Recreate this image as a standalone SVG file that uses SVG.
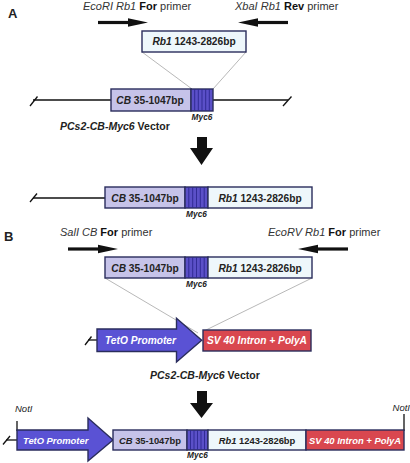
<svg xmlns="http://www.w3.org/2000/svg" width="410" height="463" viewBox="0 0 410 463">
<style>
text{font-family:"Liberation Sans",Arial,sans-serif;fill:#222}
.lbl{font-size:11px;fill:#333}
.i{font-style:italic}
.b{font-weight:bold;fill:#111}
.bx{stroke:#2a2d5c;stroke-width:1.4}
.cb{fill:#c6c3e9}
.rb{fill:#eef7fb}
.myc{fill:#5b50c8}
.tet{fill:#5a52d4}
.sv{fill:#d9474f}
.stripe{stroke:#2e2890;stroke-width:0.9}
.bt{font-size:10.2px;font-weight:bold;text-anchor:middle}
.bt2{font-size:9.4px;font-weight:bold;text-anchor:middle}
.wt{fill:#fff;font-weight:bold;font-style:italic}
.myl{font-size:8.3px;font-weight:bold;font-style:italic;text-anchor:middle}
.thin{stroke:#999;stroke-width:0.7;fill:none}
.vec{stroke:#111;stroke-width:1.3;fill:none}
.shaft{stroke:#111;stroke-width:3.2}
.head{fill:#111}
</style>

<text x="8" y="18" style="font-size:13px;font-weight:bold">A</text>
<text x="4" y="241" style="font-size:13px;font-weight:bold">B</text>

<g id="connectors">
  <!-- gray projection lines A -->
  <line class="thin" x1="142" y1="52" x2="192" y2="89"/>
  <line class="thin" x1="246" y1="52" x2="213" y2="89"/>
  <!-- gray projection lines B -->
  <line class="thin" x1="105" y1="278" x2="198" y2="333"/>
  <line class="thin" x1="312" y1="278" x2="204" y2="331"/>
  <!-- vector backbone A -->
  <line class="vec" x1="33" y1="100" x2="288" y2="100"/>
  <line class="vec" x1="30" y1="106" x2="37.5" y2="96.5"/>
  <line class="vec" x1="283" y1="106" x2="291.5" y2="96.5"/>
  <!-- second construct backbone -->
  <line class="vec" x1="33" y1="198" x2="105" y2="198"/>
  <line class="vec" x1="30" y1="202" x2="37" y2="193.5"/>
  <!-- B vector backbone -->
  <line class="vec" x1="88" y1="340" x2="98" y2="340"/>
  <line class="vec" x1="85" y1="345" x2="91.5" y2="336.5"/>
  <!-- final backbone -->
  <line class="vec" x1="6" y1="440" x2="17" y2="440"/>
  <line class="vec" x1="3" y1="444.5" x2="10" y2="436"/>
  <line class="vec" x1="17" y1="421" x2="17" y2="431"/>
  <line class="vec" x1="404" y1="414" x2="404" y2="431"/>
  <!-- primer arrows -->
  <line class="shaft" x1="98" y1="22.5" x2="129" y2="22.5"/>
  <polygon class="head" points="128,18.3 148,22.5 128,26.7"/>
  <line class="shaft" x1="257" y1="22.5" x2="288" y2="22.5"/>
  <polygon class="head" points="258,18.3 238,22.5 258,26.7"/>
  <line class="shaft" x1="68" y1="249" x2="99" y2="249"/>
  <polygon class="head" points="98,244.8 118,249 98,253.2"/>
  <line class="shaft" x1="317" y1="249" x2="348" y2="249"/>
  <polygon class="head" points="318,244.8 298,249 318,253.2"/>
  <!-- block arrows -->
  <polygon class="head" points="197,137 207,137 207,148 213,148 201.5,165 190,148 197,148"/>
  <polygon class="head" points="197,391 207,391 207,403 213,403 201.5,418 190,403 197,403"/>
</g>

<g id="primer-labels">
  <text class="lbl" x="83" y="10"><tspan class="i">EcoRI Rb1</tspan> <tspan class="b">For</tspan> primer</text>
  <text class="lbl" x="235" y="10"><tspan class="i">XbaI Rb1</tspan> <tspan class="b">Rev</tspan> primer</text>
  <text class="lbl" x="60" y="236"><tspan class="i">SalI CB</tspan> <tspan class="b">For</tspan> primer</text>
  <text class="lbl" x="268" y="236"><tspan class="i">EcoRV Rb1</tspan> <tspan class="b">For</tspan> primer</text>
</g>

<g id="rb1-insert">
  <rect class="bx rb" x="142" y="31" width="104" height="21"/>
  <text class="bt" x="194" y="45"><tspan font-style="italic">Rb1</tspan> 1243-2826bp</text>
</g>

<g id="vector-a">
  <rect class="bx cb" x="111" y="89" width="80" height="22"/>
  <text class="bt" x="150" y="103.5"><tspan font-style="italic">CB</tspan> 35-1047bp</text>
  <rect class="bx myc" x="191" y="89" width="22" height="22"/>
  <path class="stripe" d="M194.7,89v22M198.3,89v22M202,89v22M205.7,89v22M209.3,89v22"/>
  <text class="myl" x="202" y="119.5">Myc6</text>
  <text x="60" y="130" style="font-size:10.5px;font-weight:bold"><tspan font-style="italic">PCs2-CB-Myc6</tspan> Vector</text>
</g>

<g id="construct-a">
  <rect class="bx cb" x="105" y="187" width="80" height="21"/>
  <text class="bt" x="145" y="201.5"><tspan font-style="italic">CB</tspan> 35-1047bp</text>
  <rect class="bx myc" x="185" y="187" width="23" height="21"/>
  <path class="stripe" d="M188.8,187v21M192.7,187v21M196.5,187v21M200.3,187v21M204.2,187v21"/>
  <rect class="bx rb" x="208" y="187" width="104" height="21"/>
  <text class="bt" x="260" y="201.5"><tspan font-style="italic">Rb1</tspan> 1243-2826bp</text>
  <text class="myl" x="196.5" y="216.5">Myc6</text>
</g>

<g id="insert-b">
  <rect class="bx cb" x="105" y="257" width="80" height="21"/>
  <text class="bt" x="145" y="271.5"><tspan font-style="italic">CB</tspan> 35-1047bp</text>
  <rect class="bx myc" x="185" y="257" width="23" height="21"/>
  <path class="stripe" d="M188.8,257v21M192.7,257v21M196.5,257v21M200.3,257v21M204.2,257v21"/>
  <rect class="bx rb" x="208" y="257" width="104" height="21"/>
  <text class="bt" x="260" y="271.5"><tspan font-style="italic">Rb1</tspan> 1243-2826bp</text>
  <text class="myl" x="196.5" y="286.5">Myc6</text>
</g>

<g id="vector-b">
  <polygon class="bx tet" points="97,329 176.5,329 176.5,318.3 201.7,340.3 176.5,362 176.5,351.5 97,351.5"/>
  <text class="wt" x="105" y="344" style="font-size:10.2px">TetO Promoter</text>
  <rect class="bx sv" x="203" y="330" width="108" height="21"/>
  <text class="wt" x="257" y="344" style="font-size:10.2px;text-anchor:middle">SV 40 Intron + PolyA</text>
  <text x="150" y="379" style="font-size:10.5px;font-weight:bold"><tspan font-style="italic">PCs2-CB-Myc6</tspan> Vector</text>
</g>

<g id="final-construct">
  <text class="i" x="15" y="412" style="font-size:9.5px">NotI</text>
  <text class="i" x="410" y="411" style="font-size:9.5px;text-anchor:end">NotI</text>
  <polygon class="bx tet" points="17,430 88,430 88,418 113,440 88,461 88,450 17,450"/>
  <text class="wt" x="23" y="443.5" style="font-size:9.4px">TetO Promoter</text>
  <rect class="bx cb" x="113" y="430" width="74" height="20"/>
  <text class="bt2" x="150" y="443.5"><tspan font-style="italic">CB</tspan> 35-1047bp</text>
  <rect class="bx myc" x="187" y="430" width="21" height="20"/>
  <path class="stripe" d="M190.5,430v20M194,430v20M197.5,430v20M201,430v20M204.5,430v20"/>
  <rect class="bx rb" x="208" y="430" width="98" height="20"/>
  <text class="bt2" x="257" y="443.5"><tspan font-style="italic">Rb1</tspan> 1243-2826bp</text>
  <rect class="bx sv" x="306" y="430" width="98" height="20"/>
  <text class="wt" x="355" y="443.5" style="font-size:9.4px;text-anchor:middle">SV 40 Intron + PolyA</text>
  <text class="myl" x="197.5" y="457.5">Myc6</text>
</g>
</svg>
